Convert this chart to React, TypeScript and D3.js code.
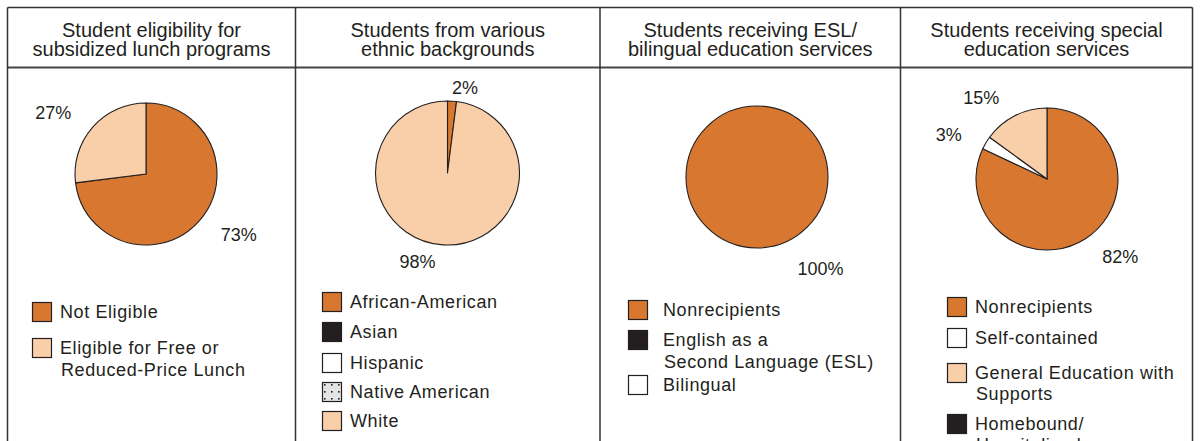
import React from "react";
import * as d3 from "d3";

// ---------- DATA ----------
const panelTitles: string[][] = [
  ["Student eligibility for", "subsidized lunch programs"],
  ["Students from various", "ethnic backgrounds"],
  ["Students receiving ESL/", "bilingual education services"],
  ["Students receiving special", "education services"],
];

const lunchCategories = ["Not Eligible", "Eligible for Free or Reduced-Price Lunch"];
const lunchValues = [73, 27];
const lunchLegend = [["Not Eligible"], ["Eligible for Free or", "Reduced-Price Lunch"]];

const ethnicCategories = ["African-American", "Asian", "Hispanic", "Native American", "White"];
const ethnicValues = [2, 0, 0, 0, 98];
const ethnicLegend = [["African-American"], ["Asian"], ["Hispanic"], ["Native American"], ["White"]];

const eslCategories = ["Nonrecipients", "English as a Second Language (ESL)", "Bilingual"];
const eslValues = [100, 0, 0];
const eslLegend = [["Nonrecipients"], ["English as a", "Second Language (ESL)"], ["Bilingual"]];

const specialCategories = ["Nonrecipients", "Self-contained", "General Education with Supports", "Homebound/Hospitalized"];
const specialValues = [82, 3, 15, 0];
const specialLegend = [["Nonrecipients"], ["Self-contained"], ["General Education with", "Supports"], ["Homebound/", "Hospitalized"]];

// ---------- STYLE ----------
const ORANGE = "#D87830";
const PEACH = "#F9CFAA";
const BLACK = "#231F20";
const WHITE = "#FFFFFF";
const DOTS = "url(#dots)";
const INK = "#231F20";
const FONT = "'Liberation Sans', Arial, Helvetica, sans-serif";

const lunchColors = [ORANGE, PEACH];
const ethnicColors = [ORANGE, BLACK, WHITE, DOTS, PEACH];
const eslColors = [ORANGE, BLACK, WHITE];
const specialColors = [ORANGE, WHITE, PEACH, BLACK];

// ---------- LAYOUT ----------
const W = 1200;
const H = 441;
const boxLeft = 7.5;
const boxRight = 1192.5;
const boxTop = 7.5;
const headerY = 67.5;
const dividers = [295.5, 600, 900.5];
const colEdges = [boxLeft, ...dividers, boxRight];

interface PanelLayout {
  cx: number;
  cy: number;
  r: number;
  labelOffsets: [number, number][]; // per category
  legendX: number;
  textX: number;
  legendTops: number[]; // top of square for each item
  lineGap: number;
}

const layouts: PanelLayout[] = [
  {
    cx: 146, cy: 174, r: 71,
    labelOffsets: [[14, -9], [-14, 8]],
    legendX: 32, textX: 60, legendTops: [302, 338], lineGap: 22,
  },
  {
    cx: 447.5, cy: 173, r: 72,
    labelOffsets: [[11, 19], [0, 0], [0, 0], [0, 0], [-23.5, -16]],
    legendX: 322, textX: 350, legendTops: [292, 322, 353, 382, 411], lineGap: 22,
  },
  {
    cx: 757, cy: 177, r: 71,
    labelOffsets: [[63.5, -14], [0, 0], [0, 0]],
    legendX: 628, textX: 663, legendTops: [300, 330, 375], lineGap: 22,
  },
  {
    cx: 1047, cy: 179, r: 71,
    labelOffsets: [[17, -11.5], [-8, 8.5], [-18, 12.5], [0, 0]],
    legendX: 947, textX: 975, legendTops: [297, 328, 363, 414], lineGap: 21,
  },
];

const panels = [
  { categories: lunchCategories, values: lunchValues, legend: lunchLegend, colors: lunchColors },
  { categories: ethnicCategories, values: ethnicValues, legend: ethnicLegend, colors: ethnicColors },
  { categories: eslCategories, values: eslValues, legend: eslLegend, colors: eslColors },
  { categories: specialCategories, values: specialValues, legend: specialLegend, colors: specialColors },
];

const labelRadius = 105;
const SQ = 20;

function Panel({ idx }: { idx: number }) {
  const p = panels[idx];
  const L = layouts[idx];
  const items = p.values.map((v, i) => ({ v, i }));
  const pie = d3
    .pie<{ v: number; i: number }>()
    .value((d) => d.v)
    .sort(null)
    .startAngle(0)
    .endAngle(2 * Math.PI);
  const arcs = pie(items);
  const arc = d3
    .arc<d3.PieArcDatum<{ v: number; i: number }>>()
    .innerRadius(0)
    .outerRadius(L.r);
  const colL = colEdges[idx];
  const colR = colEdges[idx + 1];
  const titleX = (colL + colR) / 2;

  return (
    <g>
      <text
        x={titleX}
        textAnchor="middle"
        fontFamily={FONT}
        fontSize={20}
        fill={INK}
      >
        {panelTitles[idx].map((t, k) => (
          <tspan key={k} x={titleX} y={36.5 + k * 19.5}>
            {t}
          </tspan>
        ))}
      </text>
      <g transform={`translate(${L.cx},${L.cy})`}>
        {arcs
          .filter((a) => a.data.v > 0)
          .map((a) => (
            <path
              key={a.data.i}
              d={arc(a) || ""}
              fill={p.colors[a.data.i]}
              stroke={BLACK}
              strokeWidth={1.1}
              strokeLinejoin="round"
            />
          ))}
        {arcs
          .filter((a) => a.data.v > 0)
          .map((a) => {
            const mid = (a.startAngle + a.endAngle) / 2;
            const off = L.labelOffsets[a.data.i];
            const x = Math.sin(mid) * labelRadius + off[0];
            const y = -Math.cos(mid) * labelRadius + off[1];
            return (
              <text
                key={"l" + a.data.i}
                x={x}
                y={y + 6.5}
                textAnchor="middle"
                fontFamily={FONT}
                fontSize={18}
                fill={INK}
              >
                {`${a.data.v}%`}
              </text>
            );
          })}
      </g>
      {p.legend.map((lines, i) => {
        const top = L.legendTops[i];
        return (
          <g key={"lg" + i}>
            <rect
              x={L.legendX + 0.5}
              y={top + 0.5}
              width={SQ - 1}
              height={SQ - 1}
              fill={p.colors[i]}
              stroke={BLACK}
              strokeWidth={1.2}
            />
            <text fontFamily={FONT} fontSize={18} fill={INK} letterSpacing={0.6}>
              {lines.map((t, k) => (
                <tspan key={k} x={L.textX + (k > 0 ? 1 : 0)} y={top + 15.5 + k * L.lineGap}>
                  {t}
                </tspan>
              ))}
            </text>
          </g>
        );
      })}
    </g>
  );
}

export default function App() {
  return (
    <svg
      width={W}
      height={H}
      viewBox={`0 0 ${W} ${H}`}
      style={{ position: "absolute", left: 0, top: 0, background: "#fff" }}
    >
      <defs>
        <pattern id="dots" width={7} height={7} patternUnits="userSpaceOnUse" x={322} y={382}>
          <rect width={7} height={7} fill="#E4E4E4" />
          <rect x={2} y={2} width={1.6} height={1.6} fill={BLACK} />
        </pattern>
      </defs>
      <rect x={0} y={0} width={W} height={H} fill="#fff" />
      {/* frame */}
      <line x1={boxLeft} x2={boxRight} y1={boxTop} y2={boxTop} stroke="#333" strokeWidth={1.5} />
      <line x1={boxLeft} x2={boxRight} y1={headerY} y2={headerY} stroke="#444" strokeWidth={1.8} />
      <line x1={boxLeft} x2={boxLeft} y1={boxTop} y2={H} stroke="#333" strokeWidth={1.5} />
      <line x1={boxRight} x2={boxRight} y1={boxTop} y2={H} stroke="#333" strokeWidth={1.5} />
      {dividers.map((x, i) => (
        <line key={i} x1={x} x2={x} y1={boxTop} y2={H} stroke="#333" strokeWidth={1.5} />
      ))}
      {panels.map((_, i) => (
        <Panel key={i} idx={i} />
      ))}
    </svg>
  );
}
